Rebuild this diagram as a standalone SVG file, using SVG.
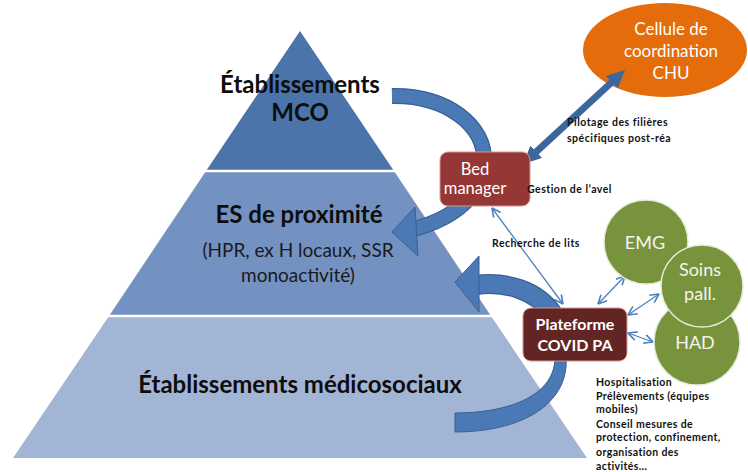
<svg xmlns="http://www.w3.org/2000/svg" width="748" height="472" viewBox="0 0 748 472">
<style>
text{font-family:Lato,"Liberation Sans",sans-serif;}
.pt{font-size:24px;font-weight:bold;fill:#0d0d0d;text-anchor:middle;}
.ps{font-size:19px;fill:#1a1a1a;text-anchor:middle;}
.bx{font-size:16.5px;fill:#ffffff;text-anchor:middle;}
.cl{font-size:17px;fill:#ffffff;text-anchor:middle;}
.bxb{font-size:16px;font-weight:bold;fill:#ffffff;text-anchor:middle;}
.ci{font-size:18px;fill:#f4f4f0;text-anchor:middle;}
.sm{font-size:10.5px;font-weight:bold;fill:#111111;letter-spacing:0.5px;}
.tiny{font-size:10.5px;font-weight:bold;fill:#111111;letter-spacing:0.4px;}
.arc{fill:none;stroke-linecap:butt;}
.thin{stroke:#4f81bd;stroke-width:1.3;fill:none;marker-start:url(#vh);marker-end:url(#vh);}
.circ{fill:#77933c;stroke:#e6ecd8;stroke-width:1.5;}
</style>
<defs>
<marker id="vh" markerUnits="userSpaceOnUse" markerWidth="10" markerHeight="10" viewBox="0 0 8 8" refX="7.5" refY="4" orient="auto-start-reverse">
<path d="M0.5,0.5 L7.5,4 L0.5,7.5" fill="none" stroke="#4f81bd" stroke-width="1.3"/>
</marker>
<marker id="th" markerUnits="userSpaceOnUse" markerWidth="18" markerHeight="17" viewBox="0 0 18 17" refX="4" refY="8.5" orient="auto-start-reverse">
<path d="M0,0 L18,8.5 L0,17 z" fill="#3c679c"/>
</marker>
</defs>

<g id="pyramide">
<polygon points="300,31 394,171 206,171" fill="#4a74aa"/>
<polygon points="206,171 394,171 491,316 109,316" fill="#7392c2"/>
<polygon points="109,316 491,316 587,458 13,458" fill="#a3b5d5"/>
<line x1="204" y1="171" x2="396" y2="171" stroke="#ffffff" stroke-width="2.5"/>
<line x1="107" y1="316" x2="493" y2="316" stroke="#ffffff" stroke-width="2.5"/>
<text class="pt" x="300" y="93">Établissements</text>
<text class="pt" x="300" y="121">MCO</text>
<text class="pt" x="299" y="223">ES de proximité</text>
<text class="ps" x="298" y="257">(HPR, ex H locaux, SSR</text>
<text class="ps" x="298" y="282">monoactivité)</text>
<text class="pt" x="300" y="393">Établissements médicosociaux</text>
</g>

<g id="cellule-chu">
<ellipse cx="665" cy="50" rx="82" ry="47" fill="#e46c0a"/>
<text class="cl" x="671" y="35">Cellule de</text>
<text class="cl" x="671" y="57">coordination</text>
<text class="cl" x="671" y="79">CHU</text>
</g>

<g id="connecteurs">
<path class="arc" d="M392 96 C447 95 486 126 484 162 C482 195 455 218 414 229" stroke="#3a5f92" stroke-width="16"/>
<path class="arc" d="M392 96 C447 95 486 126 484 162 C482 195 455 218 414 229" stroke="#4a79b6" stroke-width="13.5"/>
<polygon points="392,232 415,207 418,256" fill="#4a79b6" stroke="#3a5f92" stroke-width="1"/>
<path class="arc" d="M476 285 C505 281 537 290 553 314" stroke="#3a5f92" stroke-width="20"/>
<path class="arc" d="M476 285 C505 281 537 290 553 314" stroke="#4a79b6" stroke-width="17.5"/>
<polygon points="455,282 479,256 479,312" fill="#4a79b6" stroke="#3a5f92" stroke-width="1"/>
<path d="M566 356 C570 405 520 432 455 432 L455 413 C510 413 556 395 555 356 Z" fill="#4a79b6" stroke="#3a5f92" stroke-width="1"/>
<line x1="533.3" y1="154.5" x2="614.7" y2="79.5" stroke="#3c679c" stroke-width="7" marker-start="url(#th)" marker-end="url(#th)"/>
<line class="thin" x1="492" y1="208" x2="563" y2="304"/>
<line class="thin" x1="598" y1="304" x2="625" y2="276"/>
<line class="thin" x1="628" y1="315" x2="659" y2="294"/>
<line class="thin" x1="628" y1="333" x2="653" y2="342"/>
</g>

<g id="bed-manager">
<rect x="440" y="152" width="90" height="54" rx="8" fill="#953735" stroke="#d99694" stroke-width="1"/>
<text class="bx" x="475" y="175">Bed</text>
<text class="bx" x="475" y="194">manager</text>
</g>

<g id="plateforme">
<rect x="523" y="308" width="104" height="53" rx="8" fill="#632523" stroke="#d99694" stroke-width="1"/>
<text class="bxb" x="575" y="330">Plateforme</text>
<text class="bxb" x="575" y="351">COVID PA</text>
</g>

<g id="emg">
<circle class="circ" cx="646" cy="242" r="42"/>
<text class="ci" x="645" y="249">EMG</text>
</g>
<g id="had">
<circle class="circ" cx="697" cy="342" r="43"/>
<text class="ci" x="695" y="349">HAD</text>
</g>
<g id="soins-pall">
<circle class="circ" cx="702" cy="286" r="41"/>
<text class="ci" x="700" y="276">Soins</text>
<text class="ci" x="700" y="300">pall.</text>
</g>

<g id="etiquettes">
<text class="sm" x="567" y="126">Pilotage des filières</text>
<text class="sm" x="567" y="142">spécifiques post-réa</text>
<text class="sm" x="527" y="193">Gestion de  l’avel</text>
<text class="sm" x="492" y="247">Recherche de lits</text>
<text class="tiny" x="596" y="386">Hospitalisation</text>
<text class="tiny" x="596" y="400">Prélèvements (équipes</text>
<text class="tiny" x="596" y="413">mobiles)</text>
<text class="tiny" x="596" y="428">Conseil mesures de</text>
<text class="tiny" x="596" y="441">protection, confinement,</text>
<text class="tiny" x="596" y="456">organisation  des</text>
<text class="tiny" x="596" y="470">activités…</text>
</g>
</svg>
